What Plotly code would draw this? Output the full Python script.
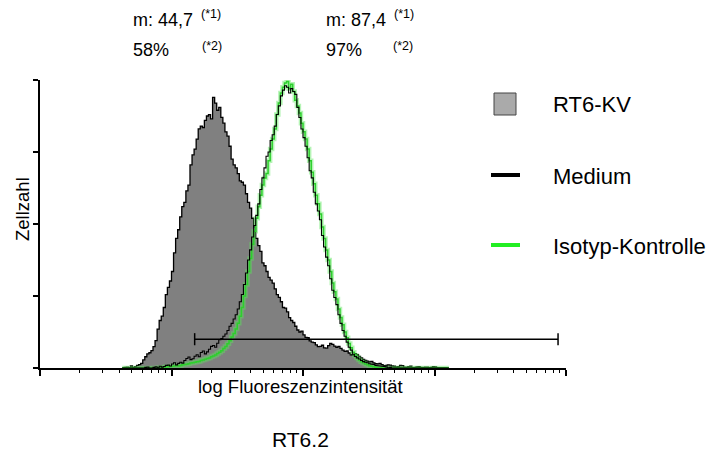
import plotly.graph_objects as go

# Flow cytometry histograms: 1024 channels spread over four log decades.
channels = list(range(160, 800, 4))

rt6_kv = [0, 0.2, 0.3, 0, 0.7, 0.2, 0.5, 0.9, 1.2, 1.6,
          2.8, 3.9, 4.9, 5.3, 6.0, 7.4, 9.5, 13.5, 16.5, 18.0,
          21.0, 25.5, 28.0, 30.2, 33.5, 40.0, 45.0, 48.0, 52.5, 56.0,
          57.5, 61.5, 63.5, 70.5, 74.0, 76.0, 79.5, 83.0, 84.0, 83.5,
          86.0, 87.5, 88.0, 86.5, 94.0, 92.0, 89.5, 90.5, 87.0, 85.0,
          82.0, 80.5, 77.0, 72.5, 70.5, 69.5, 67.5, 65.0, 64.5, 63.5,
          60.5, 57.5, 55.5, 52.0, 49.0, 45.0, 42.5, 40.5, 36.5, 35.5,
          33.5, 31.5, 30.5, 29.5, 27.5, 25.5, 24.5, 23.0, 21.0, 20.8,
          19.5, 17.5, 16.5, 15.8, 14.5, 13.2, 12.5, 12.8, 11.5, 10.6,
          10.5, 9.4, 9.0, 8.8, 8.0, 7.4, 7.5, 7.9, 7.0, 6.9,
          7.8, 8.5, 8.2, 7.6, 7.2, 7.5, 6.8, 6.2, 5.8, 5.9,
          5.2, 4.6, 4.5, 5.0, 4.6, 4.0, 3.5, 3.0, 2.6, 2.4,
          2.1, 2.3, 1.8, 1.5, 1.4, 1.6, 1.2, 0.8, 0.9, 1.1,
          1.0, 0.7, 0.6, 0.4, 0.5, 0.9, 0.8, 0.3, 0.3, 0.5,
          0.6, 0.1, 0.2, 0.4, 0.5, 0.2, 0.1, 0.3, 0.3, 0,
          0.2, 0.5, 0.4, 0, 0, 0, 0, 0, 0, 0]

medium = [0, 0, 0, 0, 0, 0, 0, 0, 0, 0, 0, 0.2,
          0.3, 0, 0, 0.2, 0.4, 0.1, 0.6, 0.3, 0.5, 0.9, 1.0, 0.7,
          1.4, 1.8, 1.1, 1.6, 2.0, 1.7, 2.6, 3.3, 3.8, 2.9, 3.2, 4.1,
          4.6, 3.9, 5.4, 5.9, 4.9, 5.6, 6.5, 7.5, 7.8, 7.2, 8.6, 9.8,
          10.2, 11.0, 11.8, 13.0, 14.5, 15.5, 17.0, 18.5, 20.5, 23.0, 25.5, 29.0,
          33.0, 37.5, 41.0, 45.5, 49.5, 53.0, 57.0, 62.0, 66.0, 69.5, 73.5, 75.0,
          79.0, 81.0, 84.0, 88.0, 91.0, 94.5, 96.5, 98.0, 97.5, 95.5, 97.0, 96.0,
          95.0, 90.5, 87.0, 83.0, 80.0, 77.0, 73.0, 68.5, 66.0, 61.0, 57.0, 54.5,
          51.5, 46.0, 42.0, 38.5, 35.5, 31.0, 27.0, 24.5, 22.0, 18.5, 15.5, 13.0,
          11.0, 9.0, 7.2, 6.2, 4.8, 4.0, 3.5, 3.1, 2.6, 2.2, 2.0, 1.8,
          1.5, 1.3, 1.2, 0.9, 0.8, 0.7, 0.6, 0.5, 0.4, 0.1, 0.2, 0,
          0, 0, 0, 0, 0, 0, 0, 0, 0, 0, 0, 0, 0, 0,
          0, 0, 0, 0, 0, 0, 0, 0, 0, 0, 0, 0, 0, 0]

isotype = [0, 0, 0, 0, 0, 0, 0, 0, 0, 0, 0, 0,
           0, 0, 0, 0, 0, 0.1, 0.2, 0.1, 0.3, 0.4, 0.4, 0.5,
           0.6, 0.7, 0.8, 0.7, 0.9, 1.1, 1.2, 1.3, 1.5, 1.7, 1.8, 2.0,
           2.2, 2.3, 2.6, 2.8, 3.0, 3.3, 3.5, 3.9, 4.2, 4.5, 5.0, 5.5,
           6.0, 6.8, 7.5, 8.4, 9.5, 10.8, 12.0, 13.5, 15.5, 18.0, 21.0, 25.0,
           29.0, 33.5, 38.0, 43.0, 47.5, 52.0, 56.0, 60.0, 63.5, 66.0, 67.5, 72.0,
           76.0, 79.5, 83.0, 88.0, 92.0, 95.5, 97.5, 99.0, 99.5, 97.0, 98.5, 96.0,
           93.0, 91.0, 88.5, 85.0, 82.0, 79.5, 76.0, 72.0, 68.0, 64.0, 60.0, 57.0,
           53.5, 49.0, 45.0, 41.0, 37.5, 33.5, 29.5, 26.5, 24.0, 20.5, 17.5, 15.0,
           12.5, 10.5, 8.5, 7.0, 5.5, 4.4, 3.5, 2.8, 2.2, 1.8, 1.4, 1.1,
           0.8, 0.6, 0.4, 0.3, 0.2, 0.1, 0, 0, 0, 0, 0, 0,
           0, 0, 0, 0, 0, 0, 0, 0, 0, 0, 0, 0, 0, 0,
           0, 0, 0, 0, 0, 0, 0, 0, 0, 0, 0, 0, 0, 0]

# Marker region (M1) used for the percentage of positive cells
gate_from = 15.0
gate_to = 8700.0
gate_level = 10.0

stats_left = ["m: 44,7", "58%"]
stats_right = ["m: 87,4", "97%"]
legend_labels = ["RT6-KV", "Medium", "Isotyp-Kontrolle"]

intensity = [10 ** (c / 256) for c in channels]

FONT = "Liberation Sans, Arial, Helvetica, sans-serif"
W, H = 715, 452
L, R, T, B = 40, 566, 80, 368


def fx(px):
    return (px - L) / (R - L)


def fy(py):
    return (B - py) / (B - T)


fig = go.Figure()

fig.add_trace(go.Scatter(
    x=intensity, y=rt6_kv, mode="lines", line_shape="hv",
    line=dict(color="black", width=1.3), fill="tozeroy",
    fillcolor="#808080", name=legend_labels[0], showlegend=False))

# green isotype control with a soft halo, black medium on top
fig.add_trace(go.Scatter(
    x=intensity, y=isotype, mode="lines", line_shape="hv",
    line=dict(color="rgba(90,230,90,0.45)", width=4.5),
    showlegend=False, hoverinfo="skip"))
fig.add_trace(go.Scatter(
    x=intensity, y=isotype, mode="lines", line_shape="hv",
    line=dict(color="#2ccf2c", width=1.5), name=legend_labels[2],
    showlegend=False))
fig.add_trace(go.Scatter(
    x=intensity, y=medium, mode="lines", line_shape="hv",
    line=dict(color="black", width=1.1), name=legend_labels[1],
    showlegend=False))

# marker bar with end caps
cap = 2.1
fig.add_trace(go.Scatter(
    x=[gate_from, gate_to, None, gate_from, gate_from, None, gate_to, gate_to],
    y=[gate_level, gate_level, None, gate_level - cap, gate_level + cap,
       None, gate_level - cap, gate_level + cap],
    mode="lines", line=dict(color="black", width=1.5), showlegend=False,
    hoverinfo="skip"))

minor_vals = [m * 10 ** d for d in range(4) for m in range(2, 10)]

fig.update_xaxes(
    type="log", range=[0, 4], showgrid=False, zeroline=False,
    showline=True, linecolor="black", linewidth=2,
    ticks="outside", tickvals=[1, 10, 100, 1000, 10000], ticklen=6,
    tickwidth=1.5, tickcolor="black", showticklabels=False,
    minor=dict(tickvals=minor_vals, ticks="outside", ticklen=3,
               tickwidth=1, tickcolor="black", showgrid=False))
fig.update_yaxes(
    range=[0, 100], showgrid=False, zeroline=False,
    showline=True, linecolor="black", linewidth=2,
    ticks="outside", tickvals=[0, 25, 50, 75, 100], ticklen=5,
    tickwidth=1.5, tickcolor="black", showticklabels=False)

ann = []


def text(s, px, py, size, anchor="left", angle=0):
    ann.append(dict(text=s, x=fx(px), y=fy(py), xref="paper", yref="paper",
                    xanchor=anchor, yanchor="middle", showarrow=False,
                    textangle=angle,
                    font=dict(family=FONT, size=size, color="black")))


text(stats_left[0], 131, 20, 18)
text("(*1)", 199, 14, 12.5)
text(stats_left[1], 131, 50, 18)
text("(*2)", 200, 46, 12.5)
text(stats_right[0], 324, 20, 18)
text("(*1)", 392, 14, 12.5)
text(stats_right[1], 324, 50, 18)
text("(*2)", 391, 46, 12.5)

text(legend_labels[0], 551, 104, 22)
text(legend_labels[1], 551, 176, 22)
text(legend_labels[2], 551, 246, 22)

text("log Fluoreszenzintensität", 300, 386, 18.5, anchor="center")
text("RT6.2", 300, 439, 21, anchor="center")
text("Zellzahl", 22, 209, 18.5, anchor="center", angle=-90)

shapes = [
    dict(type="rect", xref="paper", yref="paper",
         x0=fx(494), x1=fx(516), y0=fy(93), y1=fy(115),
         fillcolor="#aaaaaa", line=dict(color="#444444", width=1)),
    dict(type="line", xref="paper", yref="paper",
         x0=fx(491), x1=fx(520), y0=fy(175), y1=fy(175),
         line=dict(color="black", width=4)),
    dict(type="line", xref="paper", yref="paper",
         x0=fx(491), x1=fx(520), y0=fy(245), y1=fy(245),
         line=dict(color="#22ee22", width=4)),
]

fig.update_layout(
    width=W, height=H, margin=dict(l=L, r=W - R, t=T, b=H - B),
    plot_bgcolor="white", paper_bgcolor="white",
    annotations=ann, shapes=shapes, showlegend=False)

fig.write_html("out.html")
